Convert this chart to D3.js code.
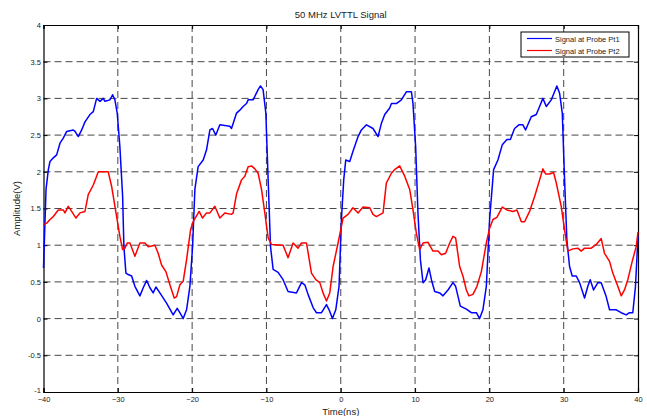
<!DOCTYPE html>
<html>
<head>
<meta charset="utf-8">
<script src="https://cdn.jsdelivr.net/npm/d3@7"></script>
<style>
  body { margin: 0; background: #fff; }
  text { font-family: "Liberation Sans", Arial, sans-serif; fill: #222; }
</style>
</head>
<body>
<svg id="chart"></svg>
<script>
// Series data (time in ns, amplitude in V)
const timePt1 = [-40.0, -39.66, -39.35, -39.13, -38.68, -38.23, -37.78, -37.34, -36.88, -35.99, -35.76, -35.32, -34.86, -34.42, -33.75, -33.30, -32.85, -32.40, -31.96, -31.73, -31.06, -30.70, -30.39, -30.08, -29.72, -29.35, -29.18, -28.91, -28.60, -28.14, -27.70, -27.03, -26.58, -26.12, -25.68, -25.24, -24.87, -24.34, -23.44, -22.55, -22.01, -21.65, -21.20, -20.75, -20.30, -19.94, -19.63, -19.19, -18.51, -18.06, -17.61, -17.25, -16.81, -16.27, -14.93, -14.70, -14.02, -13.58, -13.14, -12.68, -12.46, -11.79, -11.12, -10.80, -10.45, -10.08, -9.77, -9.45, -9.10, -8.43, -7.76, -7.09, -5.96, -5.28, -4.84, -4.40, -3.72, -3.27, -2.59, -1.92, -1.57, -1.12, -0.67, -0.23, 0.09, 0.40, 0.67, 1.21, 1.65, 2.33, 2.78, 3.46, 4.34, 5.02, 5.47, 5.92, 6.59, 6.82, 7.49, 8.16, 8.83, 9.51, 9.72, 10.08, 10.39, 10.72, 11.07, 11.43, 11.87, 12.20, 12.64, 13.31, 13.76, 14.43, 15.10, 15.46, 16.09, 16.90, 17.57, 18.25, 18.69, 19.13, 19.59, 20.03, 20.57, 21.15, 21.74, 22.36, 22.82, 23.39, 23.97, 24.51, 24.87, 25.64, 26.31, 26.76, 27.20, 27.66, 28.33, 28.77, 29.08, 29.45, 29.81, 30.12, 30.43, 30.79, 31.15, 31.69, 32.14, 32.81, 33.25, 33.57, 34.02, 34.60, 35.05, 35.72, 36.17, 37.07, 37.74, 38.41, 38.86, 39.30, 39.66, 40.0];
const ampPt1 = [0.69, 1.76, 2.03, 2.14, 2.19, 2.23, 2.39, 2.46, 2.55, 2.57, 2.55, 2.48, 2.57, 2.68, 2.78, 2.82, 3.0, 2.96, 3.0, 2.96, 2.98, 3.05, 2.98, 2.80, 2.34, 1.66, 0.98, 0.62, 0.60, 0.58, 0.44, 0.31, 0.42, 0.52, 0.42, 0.35, 0.43, 0.35, 0.21, 0.05, 0.14, 0.08, 0.0, 0.12, 0.44, 0.98, 1.76, 2.07, 2.16, 2.30, 2.57, 2.59, 2.50, 2.64, 2.62, 2.59, 2.80, 2.84, 2.89, 2.93, 2.98, 2.98, 3.12, 3.17, 3.12, 2.80, 1.89, 0.98, 0.67, 0.63, 0.53, 0.37, 0.35, 0.49, 0.46, 0.33, 0.15, 0.08, 0.08, 0.19, 0.12, 0.0, 0.12, 0.44, 1.35, 1.89, 2.16, 2.14, 2.28, 2.48, 2.57, 2.64, 2.59, 2.48, 2.66, 2.78, 2.87, 2.93, 2.93, 2.98, 3.09, 3.09, 2.93, 2.34, 1.44, 0.80, 0.49, 0.53, 0.69, 0.53, 0.37, 0.35, 0.31, 0.39, 0.49, 0.44, 0.17, 0.13, 0.08, 0.08, 0.0, 0.12, 0.44, 1.35, 2.03, 2.16, 2.37, 2.44, 2.44, 2.59, 2.64, 2.64, 2.57, 2.75, 2.78, 2.89, 3.0, 2.89, 2.98, 3.09, 3.17, 3.07, 2.80, 1.89, 1.07, 0.71, 0.58, 0.58, 0.49, 0.28, 0.44, 0.53, 0.39, 0.49, 0.49, 0.30, 0.12, 0.12, 0.08, 0.05, 0.08, 0.08, 0.44, 1.12];

const timePt2 = [-40.0, -39.57, -39.13, -38.68, -38.01, -37.34, -37.11, -36.67, -36.21, -35.63, -35.09, -34.42, -33.98, -33.30, -32.85, -32.63, -31.29, -30.83, -30.16, -29.72, -29.35, -29.04, -28.73, -28.37, -27.70, -27.03, -26.35, -25.91, -25.01, -24.57, -24.11, -23.53, -22.99, -22.41, -22.09, -21.65, -21.20, -20.75, -20.21, -19.86, -19.05, -18.60, -18.06, -17.61, -16.94, -16.27, -15.60, -14.70, -14.48, -14.02, -13.35, -12.91, -12.46, -12.01, -11.56, -11.12, -10.66, -10.22, -9.77, -9.32, -7.76, -7.09, -6.41, -5.74, -5.28, -4.61, -3.94, -3.36, -2.82, -2.38, -1.92, -1.48, -1.03, -0.36, 0.31, 0.98, 1.65, 2.33, 3.00, 3.90, 4.34, 4.80, 5.69, 6.14, 6.82, 7.26, 7.93, 8.61, 9.28, 9.72, 10.18, 10.62, 11.07, 11.74, 12.41, 13.08, 13.54, 14.12, 14.66, 15.10, 15.46, 16.00, 16.44, 16.90, 17.25, 17.79, 18.33, 18.92, 19.59, 20.03, 20.48, 21.01, 21.74, 22.36, 23.17, 23.71, 24.30, 24.74, 25.41, 26.08, 26.76, 27.20, 27.56, 28.10, 28.64, 29.00, 29.67, 30.12, 30.56, 31.23, 31.90, 32.36, 32.81, 33.71, 34.38, 35.05, 35.49, 36.17, 36.61, 37.28, 37.74, 38.18, 38.63, 39.22, 39.76, 40.0];
const ampPt2 = [1.28, 1.30, 1.35, 1.39, 1.48, 1.48, 1.44, 1.53, 1.46, 1.37, 1.44, 1.46, 1.69, 1.82, 1.94, 2.0, 2.0, 1.80, 1.39, 1.12, 0.94, 0.96, 1.03, 1.03, 0.85, 1.03, 1.03, 0.98, 1.0, 0.89, 0.73, 0.64, 0.46, 0.28, 0.30, 0.46, 0.51, 0.80, 1.21, 1.32, 1.46, 1.37, 1.44, 1.44, 1.53, 1.37, 1.44, 1.42, 1.44, 1.70, 1.89, 1.94, 2.07, 2.08, 2.04, 1.98, 1.76, 1.44, 1.10, 1.01, 1.0, 0.83, 1.03, 0.96, 1.03, 1.03, 0.62, 0.53, 0.49, 0.35, 0.24, 0.35, 0.71, 1.03, 1.37, 1.42, 1.51, 1.44, 1.52, 1.51, 1.42, 1.39, 1.44, 1.85, 1.98, 2.03, 2.08, 1.94, 1.76, 1.48, 1.16, 0.94, 1.03, 1.04, 0.92, 0.92, 0.87, 0.89, 1.03, 1.12, 1.10, 0.71, 0.58, 0.39, 0.31, 0.33, 0.44, 0.64, 1.03, 1.23, 1.35, 1.38, 1.52, 1.48, 1.46, 1.48, 1.32, 1.32, 1.46, 1.66, 1.89, 2.04, 1.97, 1.97, 1.99, 1.85, 1.53, 1.21, 0.92, 0.95, 0.96, 0.92, 0.96, 0.96, 1.01, 1.09, 0.89, 0.78, 0.62, 0.44, 0.31, 0.39, 0.53, 0.78, 0.98, 1.18];

const xTicks = [-40, -30, -20, -10, 0, 10, 20, 30, 40];
const yTicks = [-1, -0.5, 0, 0.5, 1, 1.5, 2, 2.5, 3, 3.5, 4];
const seriesNames = ["Signal at Probe Pt1", "Signal at Probe Pt2"];
const seriesColors = ["#0000ff", "#ff0000"];

const svgWidth = 647;
const svgHeight = 416;
const margin = { top: 25, right: 9, bottom: 24, left: 43.5 };
const width = svgWidth - margin.left - margin.right;
const height = svgHeight - margin.top - margin.bottom;

const svg = d3.select("#chart")
    .attr("width", svgWidth)
    .attr("height", svgHeight);

const chart = svg.append("g")
    .attr("transform", `translate(${margin.left},${margin.top})`);

const xScale = d3.scaleLinear().domain([-40, 40]).range([0, width]);
const yScale = d3.scaleLinear().domain([-1, 4]).range([height, 0]);

// Dashed grid
chart.append("g")
    .selectAll("line")
    .data(xTicks.slice(1, -1))
    .join("line")
    .attr("x1", d => xScale(d)).attr("x2", d => xScale(d))
    .attr("y1", 0).attr("y2", height)
    .attr("stroke", "#333").attr("stroke-width", 0.9)
    .attr("stroke-dasharray", "7,4");

chart.append("g")
    .selectAll("line")
    .data(yTicks.slice(1, -1))
    .join("line")
    .attr("x1", 0).attr("x2", width)
    .attr("y1", d => yScale(d)).attr("y2", d => yScale(d))
    .attr("stroke", "#333").attr("stroke-width", 0.9)
    .attr("stroke-dasharray", "7,4");

// Axes (ticks inside, like the scope plot)
chart.append("g")
    .attr("transform", `translate(0,${height})`)
    .call(d3.axisBottom(xScale).tickValues(xTicks).tickSize(-4).tickPadding(5).tickFormat(d3.format("d")));
const yAxis = chart.append("g")
    .call(d3.axisLeft(yScale).tickValues(yTicks).tickSize(-4).tickPadding(2.5).tickFormat(d => String(d)));
chart.append("g")
    .call(d3.axisTop(xScale).tickValues(xTicks).tickSize(-4).tickFormat(""));
chart.append("g")
    .attr("transform", `translate(${width},0)`)
    .call(d3.axisRight(yScale).tickValues(yTicks).tickSize(-4).tickFormat(""));

// lift the bottom y label a touch so it clears the -40 label
yAxis.selectAll(".tick text").filter(d => d === -1).attr("dy", "0.1em");

chart.selectAll(".domain").attr("stroke", "#000").attr("stroke-width", 1.2);
chart.selectAll(".tick line").attr("stroke", "#000");
chart.selectAll(".tick text").style("font-size", "7.5px").attr("fill", "#333");

// Signal traces
const line = d3.line()
    .x(d => xScale(d[0]))
    .y(d => yScale(d[1]));

const series = [
    d3.zip(timePt1, ampPt1),
    d3.zip(timePt2, ampPt2)
];

chart.selectAll(".trace")
    .data(series)
    .join("path")
    .attr("class", "trace")
    .attr("d", line)
    .attr("fill", "none")
    .attr("stroke", (d, i) => seriesColors[i])
    .attr("stroke-width", 1.5)
    .attr("stroke-linejoin", "round");

// Title and axis labels
svg.append("text")
    .attr("x", margin.left + width / 2)
    .attr("y", 18)
    .attr("text-anchor", "middle")
    .style("font-size", "9.5px")
    .text("50 MHz LVTTL Signal");

svg.append("text")
    .attr("x", margin.left + width / 2)
    .attr("y", 415)
    .attr("text-anchor", "middle")
    .style("font-size", "9.5px")
    .text("Time(ns)");

svg.append("text")
    .attr("transform", `translate(20,${margin.top + height / 2}) rotate(-90)`)
    .attr("text-anchor", "middle")
    .style("font-size", "9.5px")
    .text("Amplitude(V)");

// Legend
const legend = svg.append("g").attr("transform", "translate(521,32)");
legend.append("rect")
    .attr("width", 108).attr("height", 25)
    .attr("fill", "#fff").attr("stroke", "#000").attr("stroke-width", 1);

const entry = legend.selectAll(".entry")
    .data(seriesNames)
    .join("g")
    .attr("class", "entry")
    .attr("transform", (d, i) => `translate(0,${6.5 + i * 12})`);

entry.append("line")
    .attr("x1", 6).attr("x2", 31)
    .attr("stroke", (d, i) => seriesColors[i])
    .attr("stroke-width", 1.2);

entry.append("text")
    .attr("x", 34).attr("y", 3)
    .style("font-size", "7.5px")
    .text(d => d);
</script>
</body>
</html>
